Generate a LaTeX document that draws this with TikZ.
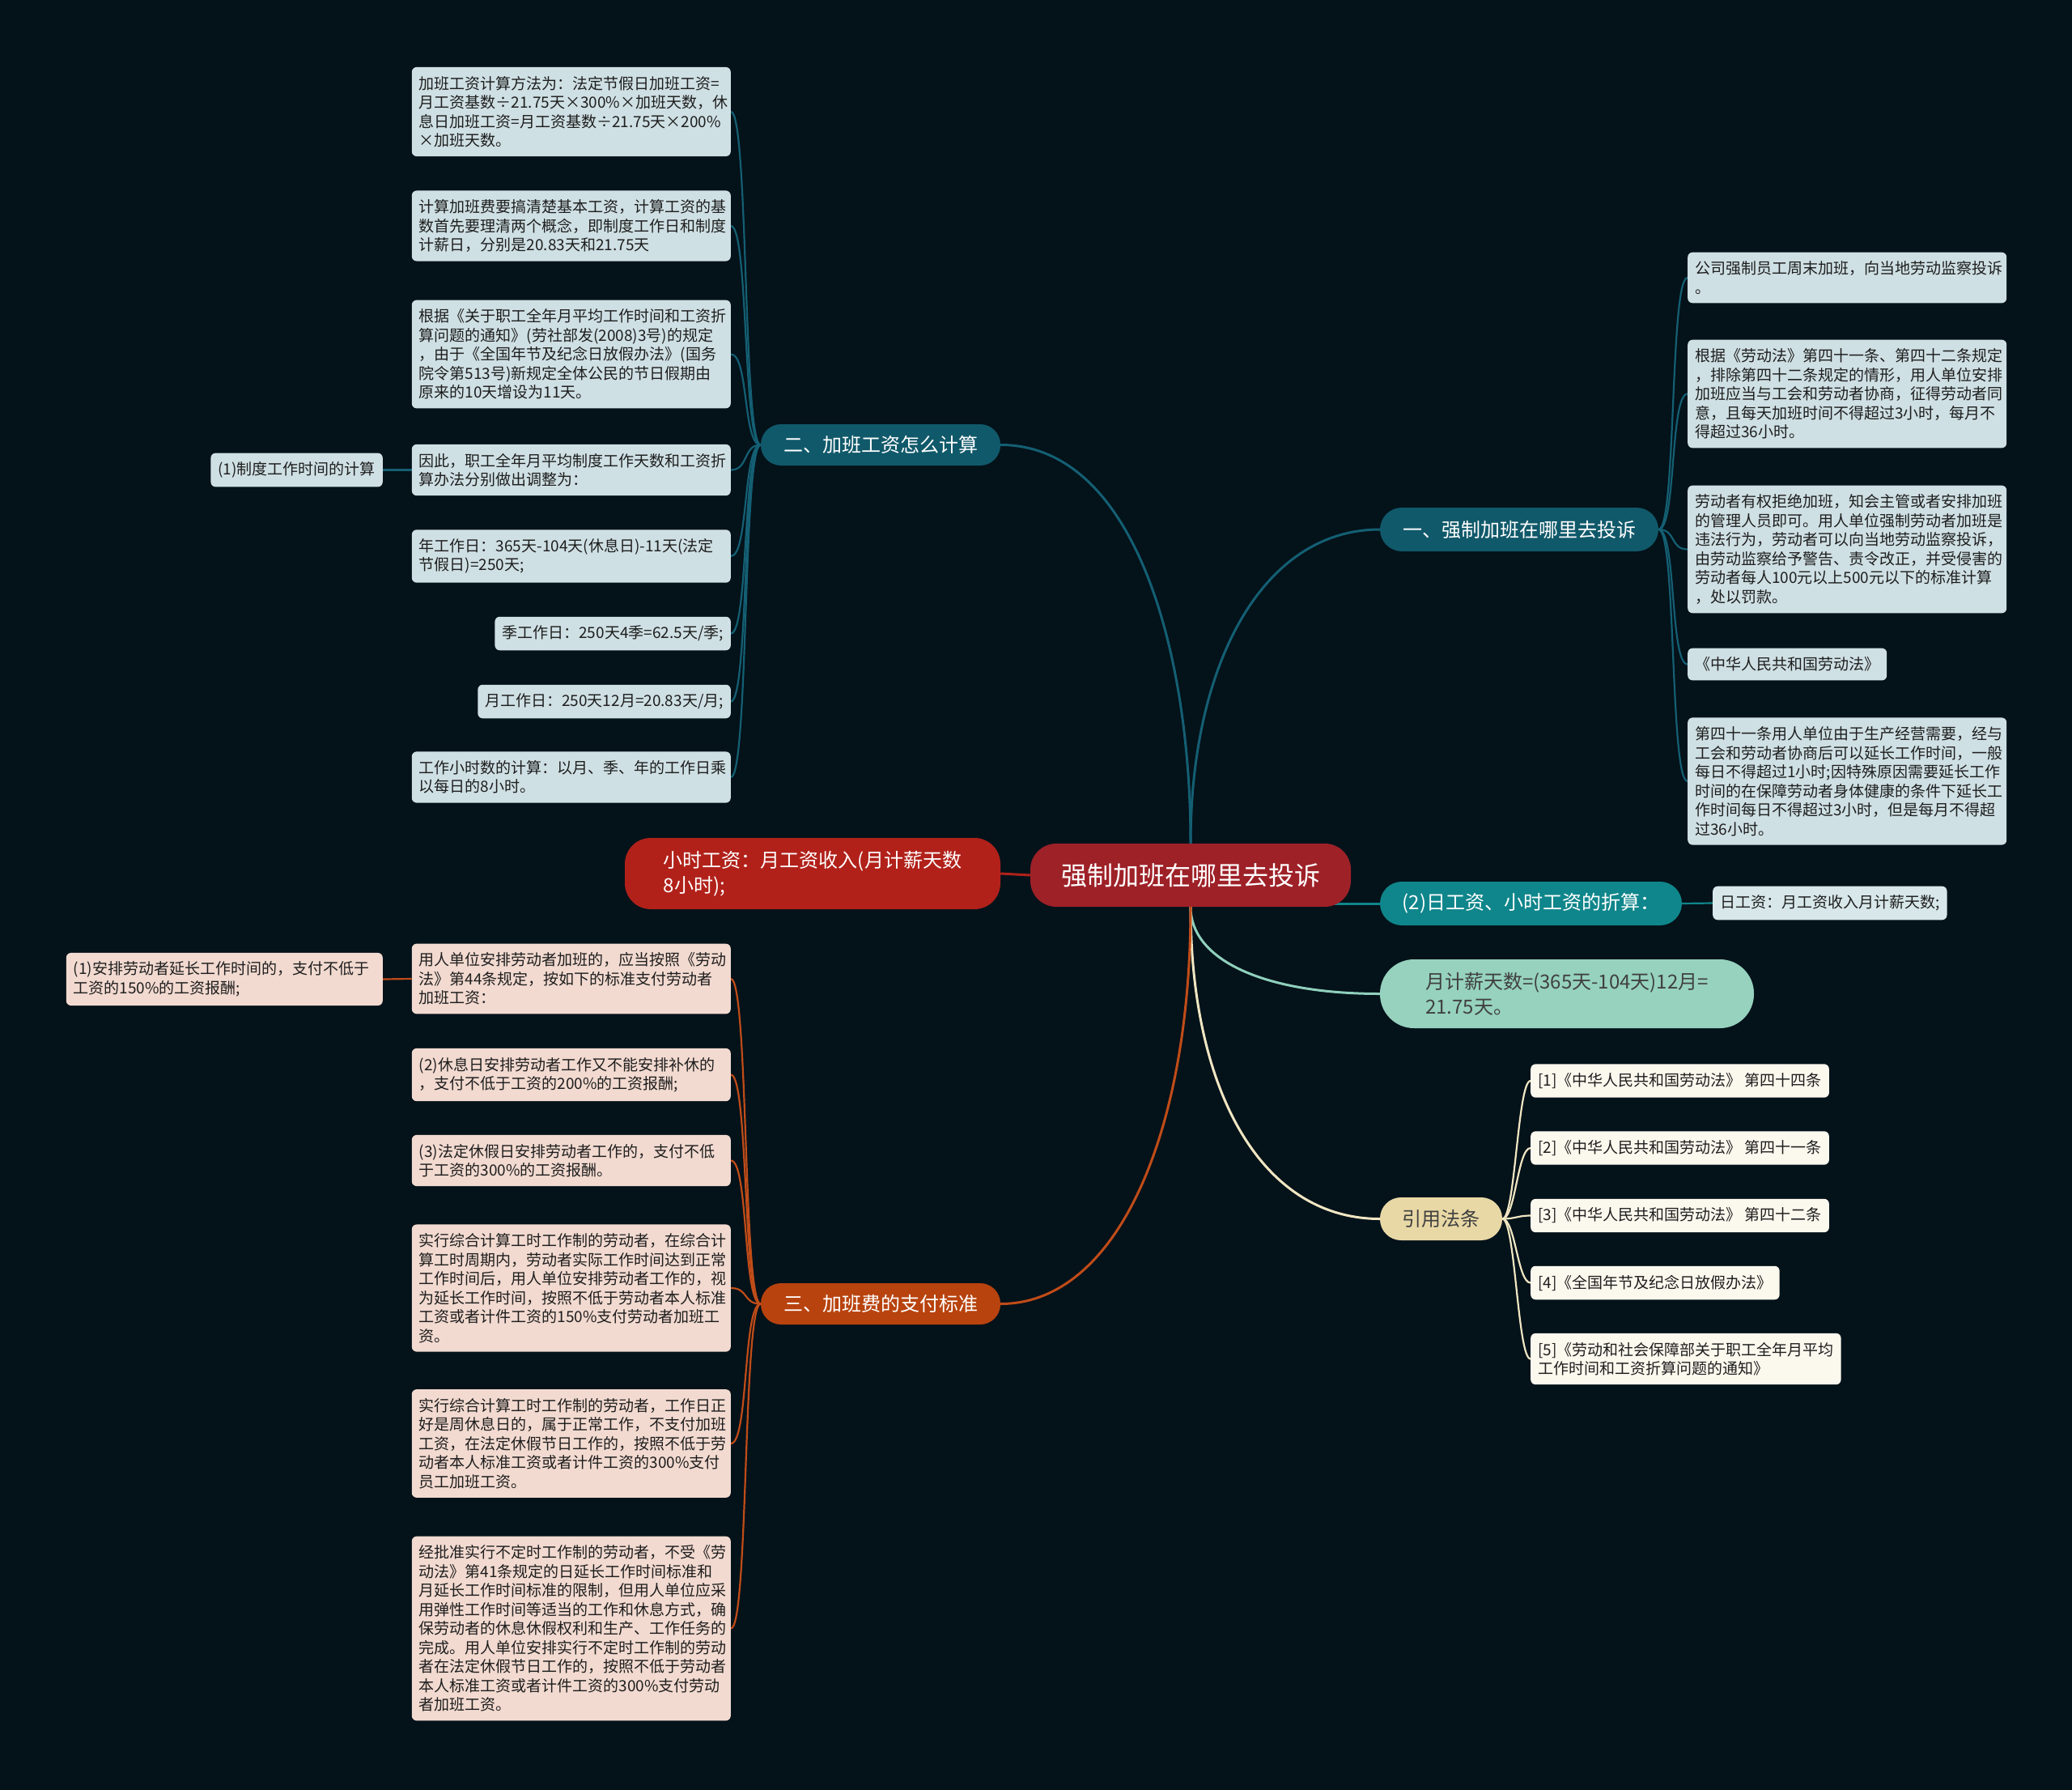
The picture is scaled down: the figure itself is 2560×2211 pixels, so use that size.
\documentclass[tikz,border=0pt]{standalone}
\usepackage{fontspec}
\setmainfont{Noto Sans CJK SC}
\usepackage{tikz}
\usetikzlibrary{positioning}
\definecolor{pozadi}{HTML}{04121A}
\definecolor{tmavatyrkys}{HTML}{10596A}
\definecolor{tyrkys}{HTML}{0F868B}
\definecolor{mata}{HTML}{96D2BE}
\definecolor{bezova}{HTML}{E8D8A5}
\definecolor{oranz}{HTML}{B8430E}
\definecolor{cervena}{HTML}{B1211A}
\definecolor{stredcerv}{HTML}{9E2128}
\definecolor{listmodry}{HTML}{CFE0E4}
\definecolor{listruzovy}{HTML}{F2DAD0}
\definecolor{listkremovy}{HTML}{FBF8EE}
\definecolor{listden}{HTML}{D8E8EA}
\definecolor{textlist}{HTML}{1E1E1E}
\definecolor{carateal}{HTML}{145F73}
\definecolor{caraoranz}{HTML}{C04C18}
\definecolor{carakrem}{HTML}{F0E6C2}
\definecolor{caramata}{HTML}{8FD0BC}
\pgfdeclarelayer{podklad}
\pgfdeclarelayer{spoje}
\pgfsetlayers{podklad,spoje,main}

\begin{document}
\begin{tikzpicture}[x=1pt, y=-1pt,
  list/.style={rounded corners=6pt, inner xsep=9pt, inner ysep=11pt, text=textlist,
    align=left, font=\fontsize{19}{23.5}\selectfont},
  listT/.style={list, fill=listmodry},
  listR/.style={list, fill=listruzovy},
  listK/.style={list, fill=listkremovy},
  siroky/.style={text width=376pt},
  vetev/.style={align=left, text=white, font=\fontsize{24}{31}\selectfont, inner sep=0pt},
  cara/.style={line width=2.2pt},
  hlavni/.style={line width=3pt}]
  % Pozadi
  \begin{pgfonlayer}{podklad}
    \fill[pozadi] (0,0) rectangle (2560,2211);
  \end{pgfonlayer}
  \useasboundingbox (0,0) rectangle (2560,2211);

  % Stred
  \node[vetev, fill=stredcerv, rounded corners=32pt, minimum width=396pt, minimum height=78pt,
    font=\fontsize{32}{38}\selectfont] (stred) at (1471,1081) {强制加班在哪里去投诉};
  \node[vetev, fill=cervena, rounded corners=32pt, minimum width=464pt, minimum height=88pt]
    (hodina) at (1004,1079) {小时工资：月工资收入(月计薪天数\\8小时);};

  % Vetve
  \node[vetev, fill=tmavatyrkys, rounded corners=25pt, minimum width=296pt, minimum height=51pt]
    (vypocet) at (1088,549.5) {二、加班工资怎么计算};
  \node[vetev, fill=oranz, rounded corners=25pt, minimum width=296pt, minimum height=51pt]
    (platba) at (1088,1610.5) {三、加班费的支付标准};
  \node[vetev, fill=tmavatyrkys, rounded corners=27pt, minimum width=344pt, minimum height=54pt]
    (stiznost) at (1877,654) {一、强制加班在哪里去投诉};
  \node[vetev, fill=tyrkys, rounded corners=27pt, minimum width=373pt, minimum height=54pt]
    (prepocet) at (1891.5,1116) {(2)日工资、小时工资的折算：};
  \node[vetev, fill=mata, text=textlist!85, rounded corners=42pt, minimum width=462pt, minimum height=85pt]
    (mesic) at (1936,1227.5) {月计薪天数=(365天-104天)12月=\\21.75天。};
  \node[vetev, fill=bezova, text=textlist!85, rounded corners=26pt, minimum width=151pt, minimum height=53pt]
    (zakony) at (1780.5,1505.5) {引用法条};

  % Listy - vypocet
  \node[listT, siroky, anchor=east] (v1) at (903,138) {加班工资计算方法为：法定节假日加班工资=\\月工资基数÷21.75天×300\%×加班天数，休\\息日加班工资=月工资基数÷21.75天×200\%\\×加班天数。};
  \node[listT, siroky, anchor=east] (v2) at (903,279) {计算加班费要搞清楚基本工资，计算工资的基\\数首先要理清两个概念，即制度工作日和制度\\计薪日，分别是20.83天和21.75天};
  \node[listT, siroky, anchor=east] (v3) at (903,437.5) {根据《关于职工全年月平均工作时间和工资折\\算问题的通知》(劳社部发(2008)3号)的规定\\，由于《全国年节及纪念日放假办法》(国务\\院令第513号)新规定全体公民的节日假期由\\原来的10天增设为11天。};
  \node[listT, siroky, anchor=east] (v4) at (903,580.5) {因此，职工全年月平均制度工作天数和工资折\\算办法分别做出调整为：};
  \node[listT, anchor=east] (v4a) at (473,580.5) {(1)制度工作时间的计算};
  \node[listT, siroky, anchor=east] (v5) at (903,687) {年工作日：365天-104天(休息日)-11天(法定\\节假日)=250天;};
  \node[listT, anchor=east] (v6) at (903,782.5) {季工作日：250天4季=62.5天/季;};
  \node[listT, anchor=east] (v7) at (903,866.5) {月工作日：250天12月=20.83天/月;};
  \node[listT, siroky, anchor=east] (v8) at (903,960) {工作小时数的计算：以月、季、年的工作日乘\\以每日的8小时。};

  % Listy - stiznost
  \node[listT, siroky, anchor=west] (s1) at (2085,343) {公司强制员工周末加班，向当地劳动监察投诉\\。};
  \node[listT, siroky, anchor=west] (s2) at (2085,486.5) {根据《劳动法》第四十一条、第四十二条规定\\，排除第四十二条规定的情形，用人单位安排\\加班应当与工会和劳动者协商，征得劳动者同\\意，且每天加班时间不得超过3小时，每月不\\得超过36小时。};
  \node[listT, siroky, anchor=west] (s3) at (2085,678.5) {劳动者有权拒绝加班，知会主管或者安排加班\\的管理人员即可。用人单位强制劳动者加班是\\违法行为，劳动者可以向当地劳动监察投诉，\\由劳动监察给予警告、责令改正，并受侵害的\\劳动者每人100元以上500元以下的标准计算\\，处以罚款。};
  \node[listT, anchor=west] (s4) at (2085,820.5) {《中华人民共和国劳动法》};
  \node[listT, siroky, anchor=west] (s5) at (2085,965) {第四十一条用人单位由于生产经营需要，经与\\工会和劳动者协商后可以延长工作时间，一般\\每日不得超过1小时;因特殊原因需要延长工作\\时间的在保障劳动者身体健康的条件下延长工\\作时间每日不得超过3小时，但是每月不得超\\过36小时。};

  % Listy - prepocet, zakony
  \node[list, fill=listden, anchor=west] (den) at (2116,1115.5) {日工资：月工资收入月计薪天数;};
  \node[listK, anchor=west] (z1) at (1891,1335) {[1]《中华人民共和国劳动法》 第四十四条};
  \node[listK, anchor=west] (z2) at (1891,1418) {[2]《中华人民共和国劳动法》 第四十一条};
  \node[listK, anchor=west] (z3) at (1891,1501.5) {[3]《中华人民共和国劳动法》 第四十二条};
  \node[listK, anchor=west] (z4) at (1891,1584.5) {[4]《全国年节及纪念日放假办法》};
  \node[listK, anchor=west] (z5) at (1891,1678.5) {[5]《劳动和社会保障部关于职工全年月平均\\工作时间和工资折算问题的通知》};

  % Listy - platba
  \node[listR, siroky, anchor=east] (p1) at (903,1209) {用人单位安排劳动者加班的，应当按照《劳动\\法》第44条规定，按如下的标准支付劳动者\\加班工资：};
  \node[listR, text width=373pt, anchor=east] (p1a) at (473,1209.5) {(1)安排劳动者延长工作时间的，支付不低于\\工资的150\%的工资报酬;};
  \node[listR, siroky, anchor=east] (p2) at (903,1327.5) {(2)休息日安排劳动者工作又不能安排补休的\\，支付不低于工资的200\%的工资报酬;};
  \node[listR, siroky, anchor=east] (p3) at (903,1433.5) {(3)法定休假日安排劳动者工作的，支付不低\\于工资的300\%的工资报酬。};
  \node[listR, siroky, anchor=east] (p4) at (903,1591) {实行综合计算工时工作制的劳动者，在综合计\\算工时周期内，劳动者实际工作时间达到正常\\工作时间后，用人单位安排劳动者工作的，视\\为延长工作时间，按照不低于劳动者本人标准\\工资或者计件工资的150\%支付劳动者加班工\\资。};
  \node[listR, siroky, anchor=east] (p5) at (903,1783) {实行综合计算工时工作制的劳动者，工作日正\\好是周休息日的，属于正常工作，不支付加班\\工资，在法定休假节日工作的，按照不低于劳\\动者本人标准工资或者计件工资的300\%支付\\员工加班工资。};
  \node[listR, siroky, anchor=east] (p6) at (903,2011.5) {经批准实行不定时工作制的劳动者，不受《劳\\动法》第41条规定的日延长工作时间标准和\\月延长工作时间标准的限制，但用人单位应采\\用弹性工作时间等适当的工作和休息方式，确\\保劳动者的休息休假权利和生产、工作任务的\\完成。用人单位安排实行不定时工作制的劳动\\者在法定休假节日工作的，按照不低于劳动者\\本人标准工资或者计件工资的300\%支付劳动\\者加班工资。};

  % Spoje
  \begin{pgfonlayer}{spoje}
    \draw[hlavni, carateal] (stred.north) .. controls (1471,800) and (1400,549.5) .. (vypocet.east);
    \draw[hlavni, carateal] (stred.north) .. controls (1471,820) and (1560,654) .. (stiznost.west);
    \draw[hlavni, cervena] (stred.west) -- (hodina.east);
    \draw[hlavni, tyrkys] (stred.center |- prepocet.west) -- (prepocet.west);
    \draw[hlavni, caramata] (stred.south) .. controls (1471,1185) and (1560,1227.5) .. (mesic.west);
    \draw[hlavni, carakrem] (stred.south) .. controls (1471,1350) and (1560,1505.5) .. (zakony.west);
    \draw[hlavni, caraoranz] (stred.south) .. controls (1471,1400) and (1380,1610.5) .. (platba.east);
    \foreach \i in {1,...,8}
      \draw[cara, carateal] (vypocet.west) .. controls +(-22,0) and +(22,0) .. (v\i.east);
    \draw[cara, carateal] (v4.west) -- (v4a.east);
    \foreach \i in {1,...,5}
      \draw[cara, carateal] (stiznost.east) .. controls +(22,0) and +(-22,0) .. (s\i.west);
    \draw[cara, tyrkys] (prepocet.east) -- (den.west);
    \foreach \i in {1,...,5}
      \draw[cara, carakrem] (zakony.east) .. controls +(16,0) and +(-16,0) .. (z\i.west);
    \foreach \i in {1,...,6}
      \draw[cara, caraoranz] (platba.west) .. controls +(-22,0) and +(22,0) .. (p\i.east);
    \draw[cara, caraoranz] (p1.west) -- (p1a.east);
  \end{pgfonlayer}
\end{tikzpicture}
\end{document}
